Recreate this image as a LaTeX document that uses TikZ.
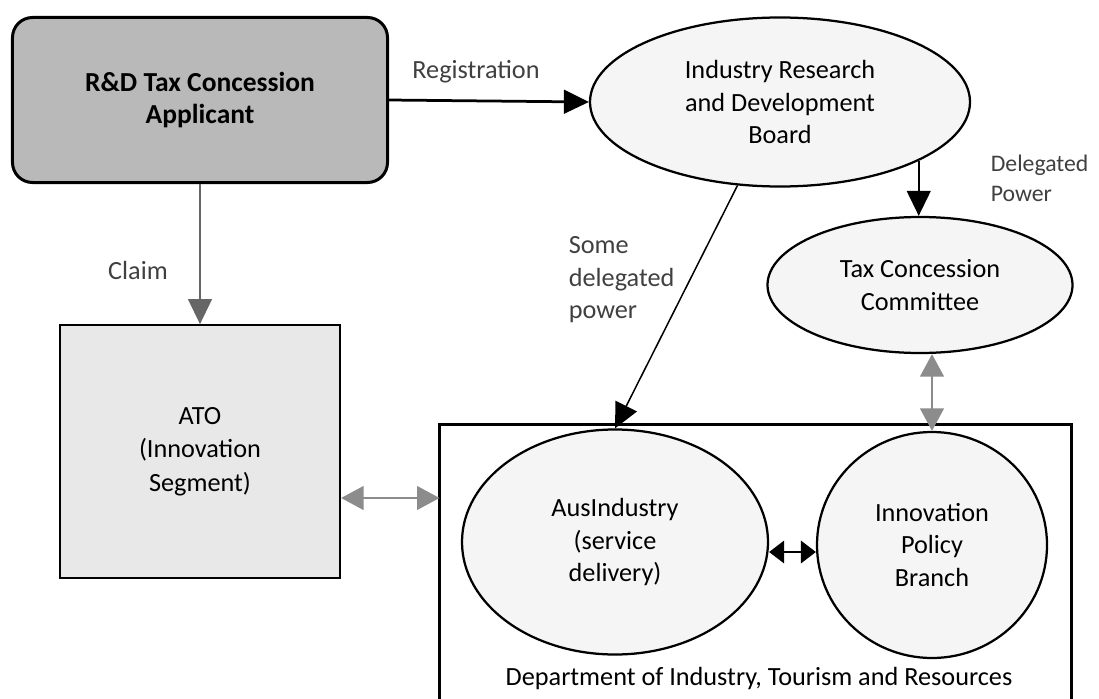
\documentclass[tikz,border=0pt]{standalone}
\usepackage{fontspec}
\setmainfont{Carlito}
\usetikzlibrary{arrows.meta,shapes.geometric}

\begin{document}
\begin{tikzpicture}[x=0.4pt,y=-0.4pt,
	tip/.style={-{Triangle[length=10pt,width=9.5pt]}},
	twotip/.style={{Triangle[length=9pt,width=9.5pt]}-{Triangle[length=9pt,width=9.5pt]}},
	smalltip/.style={{Triangle[length=6pt,width=9pt]}-{Triangle[length=6pt,width=9pt]}},
	org/.style={ellipse,draw,line width=0.9pt,fill=gray!8,inner sep=0pt,align=center,font=\fontsize{10.5}{13}\selectfont},
	lbl/.style={text=black!75,align=left,font=\fontsize{10.5}{13}\selectfont}]
	\useasboundingbox (0,0) rectangle (1099,699);
	% bodies
	\node[draw,line width=1.2pt,rounded corners=8pt,fill=gray!55,minimum width=150pt,minimum height=66pt,align=center,font=\bfseries\fontsize{11}{13}\selectfont] (app) at (200,100) {R\&D Tax Concession\\Applicant};
	\node[org,minimum width=152pt,minimum height=67.6pt] (irdb) at (780,102) {Industry Research\\and Development\\Board};
	\node[org,minimum width=122pt,minimum height=54.4pt] (tcc) at (920,285) {Tax Concession\\Committee};
	\node[draw,line width=0.9pt,fill=gray!18,minimum width=112pt,minimum height=101pt,align=center,font=\fontsize{10.5}{13.5}\selectfont] (ato) at (200,451.5) {ATO\\(Innovation\\Segment)};
	\node[minimum width=252.4pt,minimum height=109.6pt,inner sep=0pt] (dept) at (755.5,562) {};
	\draw[line width=0.9pt] (dept.south west) -- (dept.north west) -- (dept.north east) -- (dept.south east);
	\node[org,minimum width=122.4pt,minimum height=90pt] (aus) at (615,542) {AusIndustry\\(service\\delivery)};
	\node[org,minimum width=92pt,minimum height=90.4pt] (ipb) at (932,545) {Innovation\\Policy\\Branch};
	\node[font=\fontsize{10.5}{13}\selectfont] (deptlbl) at (759,678) {Department of Industry, Tourism and Resources};
	% links
	\draw[tip,line width=1.1pt] (app.east) -- (irdb.west);
	\draw[tip,black!60,line width=0.8pt] (app.south) -- (ato.north);
	\draw[tip,line width=0.8pt] (irdb.-23) -- (irdb.-23 |- tcc.north);
	\draw[tip,line width=0.6pt] (irdb.-117) -- (aus.north);
	\draw[twotip,black!45,line width=0.8pt] (tcc.south -| ipb.north) -- (ipb.north);
	\draw[twotip,black!45,line width=0.8pt] ([yshift=-18.6pt]ato.east) coordinate (atoe) -- (atoe -| dept.west);
	\draw[smalltip,line width=0.8pt] ([yshift=-4pt]aus.east) coordinate (ause) -- (ause -| ipb.west);
	% labels
	\node[lbl] (reglbl) at (476,72) {Registration};
	\node[lbl] (claimlbl) at (138,270) {Claim};
	\node[lbl,anchor=west] (somelbl) at (560,280) {Some\\delegated\\power};
	\node[lbl,anchor=west,font=\fontsize{9.5}{12}\selectfont] (dellbl) at (982,178) {Delegated\\Power};
\end{tikzpicture}
\end{document}
